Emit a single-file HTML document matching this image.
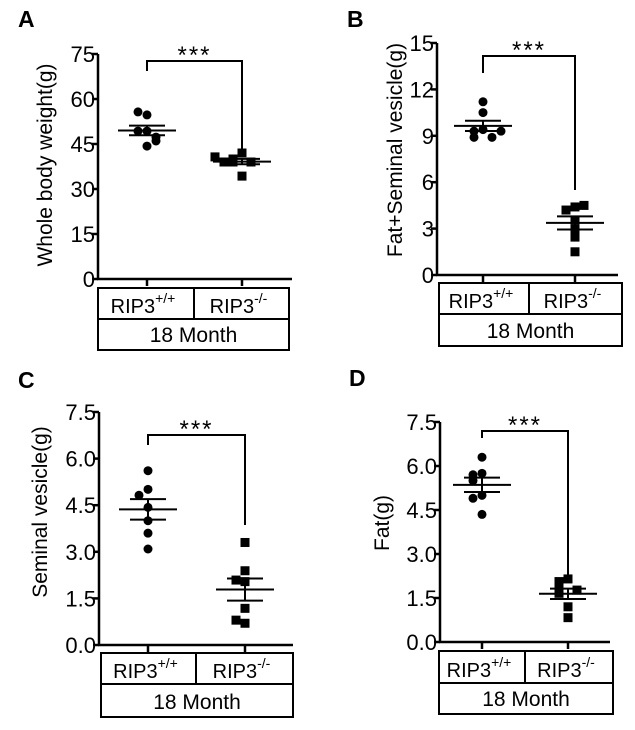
<!DOCTYPE html>
<html><head><meta charset="utf-8"><style>
body{margin:0;background:#fff;}
svg{display:block;font-family:"Liberation Sans",sans-serif;}
</style></head><body>
<svg id="fig" width="635" height="730" viewBox="0 0 635 730"></svg>
<script>
const categories=["RIP3+/+","RIP3-/-"];
const aWT=[54.7,55.7,49.3,49.3,47.3,44.3,46];
const aKO=[42,40,39,39,39,40.7,34.3];
const bWT=[11.2,10.5,9.4,9.3,8.9,8.9,9.3];
const bKO=[4.4,4.2,4.5,3.55,2.97,2.45,1.5];
const cWT=[5.61,5.01,4.82,4.43,4.0,3.6,3.09];
const cKO=[3.3,2.39,2.04,2.09,1.18,0.7,0.8];
const dWT=[6.3,5.75,5.7,5.5,5.0,4.9,4.35];
const dKO=[2.15,2.06,1.83,1.66,1.77,1.2,0.83];
const aTicks=["0","15","30","45","60","75"];
const bTicks=["0","3","6","9","12","15"];
const cTicks=["0.0","1.5","3.0","4.5","6.0","7.5"];
const dTicks=["0.0","1.5","3.0","4.5","6.0","7.5"];
const NS="http://www.w3.org/2000/svg";
const svg=document.getElementById('fig');
function mk(t,a,p){const e=document.createElementNS(NS,t);for(const k in a)e.setAttribute(k,a[k]);(p||svg).appendChild(e);return e;}
function panel(cfg){
  const g=mk('g',{});
  
  
  const max=parseFloat(cfg.ticks[cfg.ticks.length-1]);
  const y=v=>cfg.y0-(v/max)*(cfg.y0-cfg.yTop);
  const L=mk('text',{x:cfg.lx,y:cfg.ly,'font-size':23,'font-weight':'bold'},g);L.textContent=cfg.letter;
  
  
  const ax=mk('g',{stroke:'#000','stroke-width':2.5,fill:'none'},g);
  
  
  mk('line',{x1:cfg.ax,y1:cfg.yTop,x2:cfg.ax,y2:cfg.y0+1},ax);
  mk('line',{x1:cfg.ax-1,y1:cfg.y0,x2:cfg.axEnd,y2:cfg.y0},ax);
  cfg.ticks.forEach((t,i)=>{
    const v=parseFloat(t);const yy=y(v);
    mk('line',{x1:cfg.ax-6,y1:yy,x2:cfg.ax,y2:yy},ax);
    const tx=mk('text',{x:cfg.ax-3,y:yy+8,'font-size':22,'text-anchor':'end'},g);tx.textContent=t;
    
    
  });
  [cfg.g1,cfg.g2].forEach(gx=>mk('line',{x1:gx,y1:cfg.y0,x2:gx,y2:cfg.y0+7},ax));
  const yt=mk('text',{x:0,y:0,'font-size':21,'text-anchor':'middle',transform:`translate(${cfg.tx},${cfg.ty}) rotate(-90)`},g);
  yt.textContent=cfg.title;
  
  
  const br=mk('path',{d:`M${cfg.g1},${cfg.bl} V${cfg.by} H${cfg.g2} V${cfg.br}`,stroke:'#000','stroke-width':2,fill:'none'},g);
  
  
  const st=mk('text',{x:(cfg.g1+cfg.g2)/2,y:cfg.by+2,'font-size':24,'text-anchor':'middle','letter-spacing':'2'},g);st.textContent='***';
  
  
  [[cfg.wt,cfg.g1,'circle'],[cfg.ko,cfg.g2,'square']].forEach(([data,gx,shape],gi)=>{
    const n=data.length;const m=data.reduce((a,b)=>a+b,0)/n;
    const sd=Math.sqrt(data.reduce((a,b)=>a+(b-m)*(b-m),0)/(n-1));const se=sd/Math.sqrt(n);
    const used=[];
    data.forEach(v=>{
      const yy=y(v);let k=0;
      used.forEach(u=>{if(Math.abs(u-yy)<7)k++;});used.push(yy);
      const off=[0,-9,9,-18,18,-27,27][k%7];
      let e;
      if(shape==='circle')e=mk('circle',{cx:gx+off,cy:yy,r:4.5},g);
      else e=mk('rect',{x:gx+off-4.5,y:yy-4.5,width:9,height:9},g);
      
      
    });
    const eb=mk('g',{stroke:'#000','stroke-width':2},g);
    
    
    mk('line',{x1:gx-29,y1:y(m),x2:gx+29,y2:y(m)},eb);
    mk('line',{x1:gx-18,y1:y(m+se),x2:gx+18,y2:y(m+se)},eb);
    mk('line',{x1:gx-18,y1:y(m-se),x2:gx+18,y2:y(m-se)},eb);
    mk('line',{x1:gx,y1:y(m+se),x2:gx,y2:y(m-se)},eb);
  });
  const bx=mk('g',{},g);
  
  
  mk('rect',{x:cfg.bx0,y:cfg.bt,width:cfg.bx1-cfg.bx0,height:cfg.bb-cfg.bt,fill:'none',stroke:'#000','stroke-width':2},bx);
  mk('line',{x1:cfg.bx0,y1:cfg.bd,x2:cfg.bx1,y2:cfg.bd,stroke:'#000','stroke-width':2},bx);
  mk('line',{x1:cfg.bm,y1:cfg.bt,x2:cfg.bm,y2:cfg.bd,stroke:'#000','stroke-width':2},bx);
  const sups=['+/+','-/-'];
  [(cfg.bx0+cfg.bm)/2,(cfg.bm+cfg.bx1)/2].forEach((cx,i)=>{
    const t=mk('text',{x:cx-3,y:cfg.bd-6,'font-size':20,'text-anchor':'middle'},bx);
    t.innerHTML='RIP3<tspan dy="-10" font-size="14">'+sups[i]+'</tspan>';
    
    
  });
  const mo=mk('text',{x:(cfg.bx0+cfg.bx1)/2,y:cfg.bb-8,'font-size':21,'text-anchor':'middle'},bx);mo.textContent='18 Month';
  
  
}
panel({letter:'A',lx:18,ly:27,ax:98,axEnd:292,yTop:54,y0:279,g1:147,g2:242,ticks:aTicks,title:'Whole body weight(g)',tx:52,ty:165,
  by:61,bl:71,br:153,wt:aWT,ko:aKO,bx0:98,bx1:289,bt:288,bd:319,bb:350,bm:194});
panel({letter:'B',lx:347,ly:27,ax:437,axEnd:618,yTop:43,y0:275,g1:483,g2:575,ticks:bTicks,title:'Fat+Seminal vesicle(g)',tx:402,ty:150,
  by:56,bl:73,br:190,wt:bWT,ko:bKO,bx0:439,bx1:622,bt:283,bd:314,bb:346,bm:529});
panel({letter:'C',lx:18,ly:388,ax:99,axEnd:293,yTop:412,y0:645,g1:148,g2:245,ticks:cTicks,title:'Seminal vesicle(g)',tx:47,ty:512,
  by:435,bl:445,br:525,wt:cWT,ko:cKO,bx0:101,bx1:293,bt:653,bd:684,bb:717,bm:196});
panel({letter:'D',lx:349,ly:386,ax:440,axEnd:610,yTop:422,y0:642,g1:482,g2:568,ticks:dTicks,title:'Fat(g)',tx:389,ty:523,
  by:431,bl:438,br:575,wt:dWT,ko:dKO,bx0:439,bx1:613,bt:651,bd:683,bb:714,bm:525});
</script>
</body></html>
